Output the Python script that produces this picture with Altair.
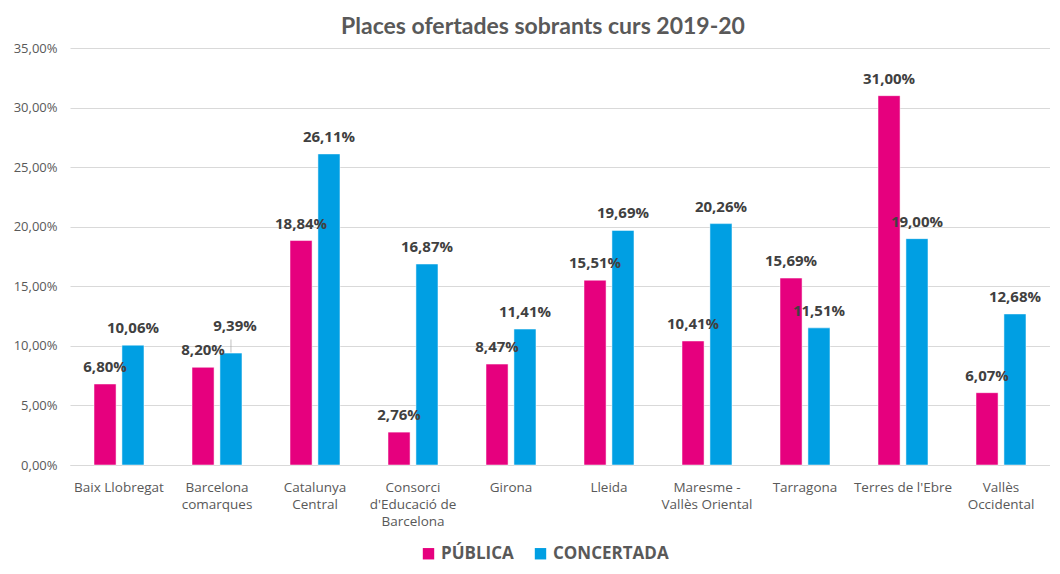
import altair as alt
import pandas as pd

categories = [
    "Baix Llobregat",
    "Barcelona\ncomarques",
    "Catalunya\nCentral",
    "Consorci\nd'Educació de\nBarcelona",
    "Girona",
    "Lleida",
    "Maresme -\nVallès Oriental",
    "Tarragona",
    "Terres de l'Ebre",
    "Vallès\nOccidental",
]
publica = [6.80, 8.20, 18.84, 2.76, 8.47, 15.51, 10.41, 15.69, 31.00, 6.07]
concertada = [10.06, 9.39, 26.11, 16.87, 11.41, 19.69, 20.26, 11.51, 19.00, 12.68]
series = ["PÚBLICA", "CONCERTADA"]
colors = ["#E6007E", "#009FE3"]
raised_label = ("Barcelona\ncomarques", "CONCERTADA")

rows = []
for i, c in enumerate(categories):
    rows.append({"cat": c, "serie": series[0], "value": publica[i]})
    rows.append({"cat": c, "serie": series[1], "value": concertada[i]})
df = pd.DataFrame(rows)
df["raised"] = [(r.cat, r.serie) == raised_label for r in df.itertuples()]

x = alt.X(
    "cat:N",
    sort=categories,
    title=None,
    scale=alt.Scale(paddingInner=0.49, paddingOuter=0.245),
    axis=alt.Axis(
        labelExpr="split(datum.label, '\\n')",
        labelAngle=0,
        labelFont="Open Sans",
        labelFontSize=13.5,
        labelColor="#595959",
        labelLineHeight=17,
        labelPadding=15,
        ticks=False,
        domainColor="#D9D9D9",
        grid=False,
        labelLimit=200,
    ),
)
xo = alt.XOffset("serie:N", sort=series, scale=alt.Scale(paddingInner=0.21))
y = alt.Y(
    "value:Q",
    title=None,
    scale=alt.Scale(domain=[0, 35], nice=False),
    axis=alt.Axis(
        values=[0, 5, 10, 15, 20, 25, 30, 35],
        labelExpr="replace(format(datum.value, '.2f'), '.', ',') + '%'",
        labelFont="Open Sans",
        labelFontSize=13,
        labelColor="#595959",
        labelPadding=13,
        ticks=False,
        domain=False,
        gridColor="#D9D9D9",
    ),
)
color = alt.Color(
    "serie:N",
    sort=series,
    scale=alt.Scale(domain=series, range=colors),
    legend=alt.Legend(
        title=None,
        orient="none",
        direction="horizontal",
        legendX=350,
        legendY=497,
        symbolType="square",
        symbolSize=130,
        symbolStrokeWidth=0,
        labelFont="Open Sans",
        labelFontSize=17,
        labelFontWeight="bold",
        labelColor="#595959",
        columnPadding=18,
        padding=0,
    ),
)

base = alt.Chart(df).encode(x=x, xOffset=xo, y=y)
bars = base.mark_bar(stroke="white", strokeWidth=0.5).encode(color=color)
text_style = dict(font="Open Sans", fontSize=15, fontWeight="bold", color="#404040", baseline="middle")
lbl_expr = "replace(format(datum.value, '.2f'), '.', ',') + '%'"
labels = (
    base.mark_text(dy=-17, **text_style)
    .encode(text=alt.Text("lbl:N"))
    .transform_filter("!datum.raised")
    .transform_calculate(lbl=lbl_expr)
)
labels_raised = (
    base.mark_text(dy=-27, dx=4, **text_style)
    .encode(text=alt.Text("lbl:N"))
    .transform_filter("datum.raised")
    .transform_calculate(lbl=lbl_expr)
)
leader = (
    base.mark_tick(orient="vertical", size=13, color="#A6A6A6", thickness=1, yOffset=-7, xOffset=2)
    .transform_filter("datum.raised")
)

chart = (
    alt.layer(bars, leader, labels, labels_raised)
    .properties(
        width=980,
        height=417,
        autosize=alt.AutoSizeParams(type="none"),
        padding={"left": 62, "top": 40, "right": 0, "bottom": 100},
        title=alt.Title(
            "Places ofertades sobrants curs 2019-20",
            font="Lato",
            fontSize=23,
            fontWeight="bold",
            color="#595959",
            anchor="middle",
            dx=-17,
            offset=3,
        ),
    )
    .configure_view(stroke=None)
)

chart.save("out.html", embed_options={"renderer": "svg", "actions": False})
